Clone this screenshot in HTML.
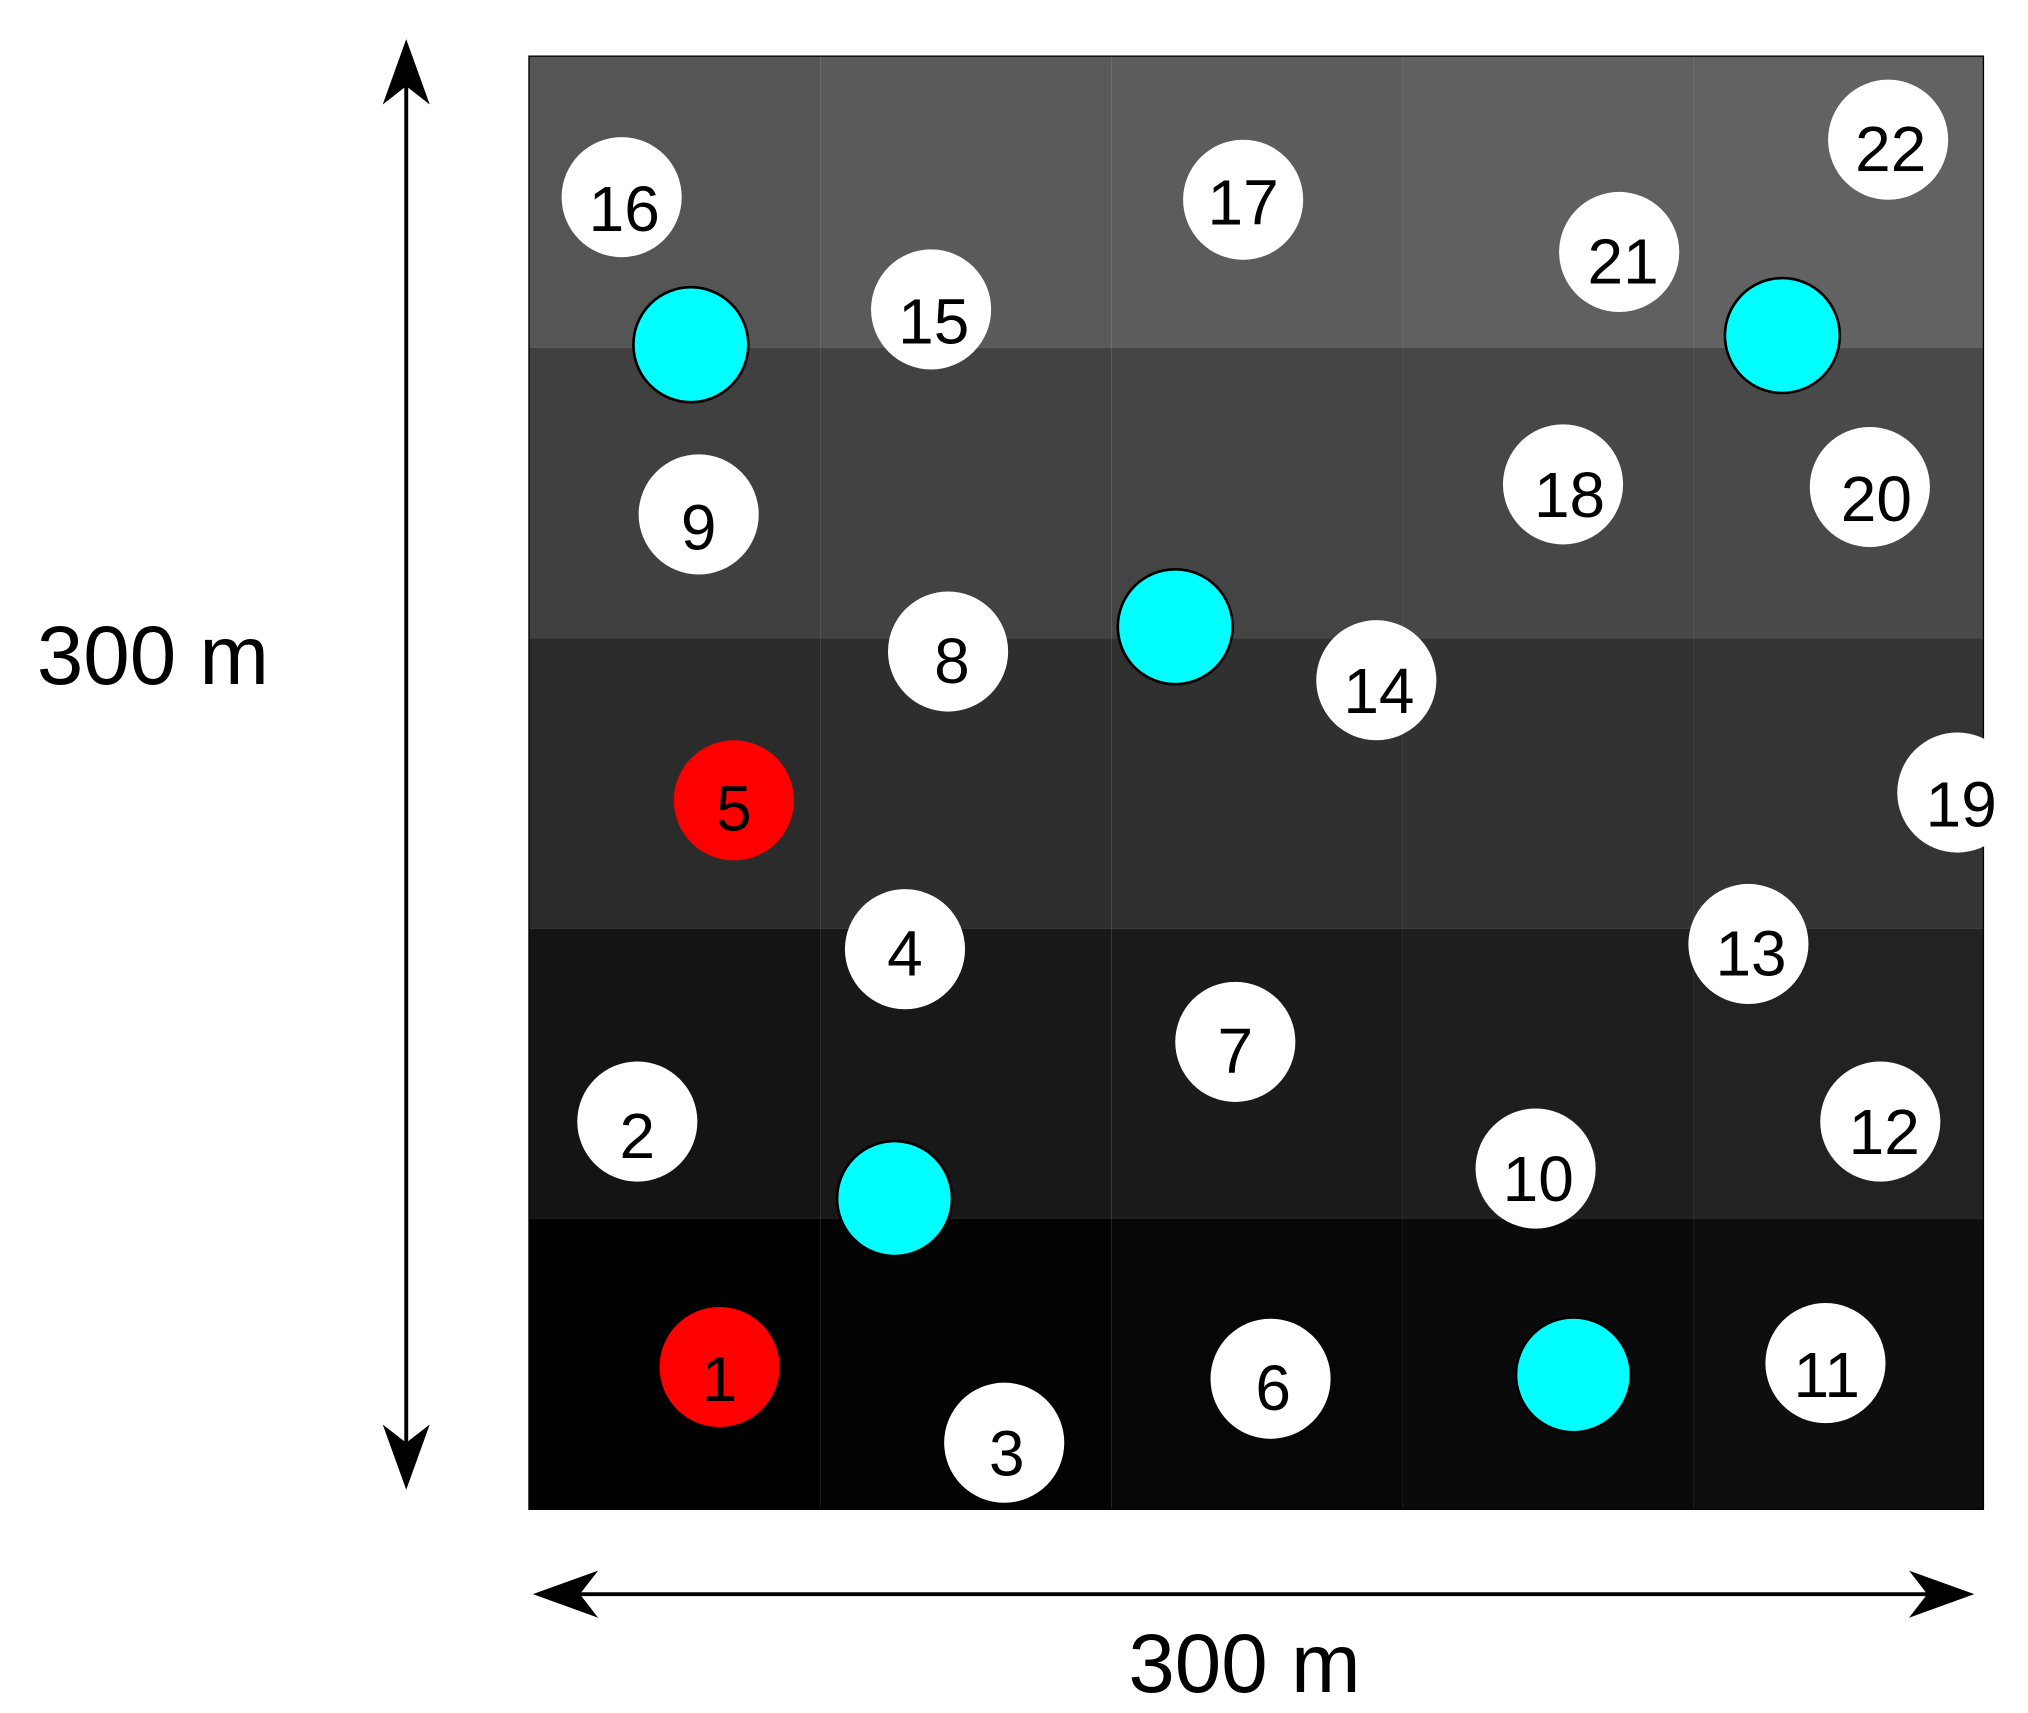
<!DOCTYPE html>
<html><head><style>html,body{margin:0;padding:0;background:#fff}svg{display:block}</style></head>
<body>
<svg width="2028" height="1713" viewBox="0 0 1553 1312" xmlns="http://www.w3.org/2000/svg" font-family="Liberation Sans, sans-serif">
<g>
<rect x="405" y="43" width="223" height="223" fill="#555"/><rect x="628" y="43" width="223" height="223" fill="#5a5a5a"/><rect x="851" y="43" width="223" height="223" fill="#5c5c5c"/><rect x="1074" y="43" width="223" height="223" fill="#606060"/><rect x="1297" y="43" width="222" height="223" fill="#626262"/>
<rect x="405" y="266" width="223" height="223" fill="#404040"/><rect x="628" y="266" width="223" height="223" fill="#424242"/><rect x="851" y="266" width="223" height="223" fill="#444"/><rect x="1074" y="266" width="223" height="223" fill="#474747"/><rect x="1297" y="266" width="222" height="223" fill="#494949"/>
<rect x="405" y="489" width="223" height="222" fill="#2b2b2b"/><rect x="628" y="489" width="223" height="222" fill="#2e2e2e"/><rect x="851" y="489" width="223" height="222" fill="#303030"/><rect x="1074" y="489" width="223" height="222" fill="#323232"/><rect x="1297" y="489" width="222" height="222" fill="#343434"/>
<rect x="405" y="711" width="223" height="222" fill="#141414"/><rect x="628" y="711" width="223" height="222" fill="#181818"/><rect x="851" y="711" width="223" height="222" fill="#1b1b1b"/><rect x="1074" y="711" width="223" height="222" fill="#1e1e1e"/><rect x="1297" y="711" width="222" height="222" fill="#222"/>
<rect x="405" y="933" width="223" height="223" fill="#000"/><rect x="628" y="933" width="223" height="223" fill="#030303"/><rect x="851" y="933" width="223" height="223" fill="#060606"/><rect x="1074" y="933" width="223" height="223" fill="#0a0a0a"/><rect x="1297" y="933" width="222" height="223" fill="#0e0e0e"/>
</g>
<rect x="405" y="43" width="1114" height="1113" fill="none" stroke="#000" stroke-width="1"/>
<g font-size="49" text-anchor="middle">
<g fill="#fff">
<circle cx="476" cy="151" r="46"/><circle cx="952" cy="153" r="46"/><circle cx="1446" cy="107" r="46"/><circle cx="1240" cy="193" r="46"/><circle cx="713" cy="237" r="46"/><circle cx="1197" cy="371" r="46"/><circle cx="1432" cy="373" r="46"/><circle cx="535" cy="394" r="46"/><circle cx="726" cy="499" r="46"/><circle cx="1054" cy="521" r="46"/><circle cx="1499" cy="607" r="46"/><circle cx="693" cy="727" r="46"/><circle cx="1339" cy="723" r="46"/><circle cx="946" cy="798" r="46"/><circle cx="488" cy="859" r="46"/><circle cx="1440" cy="859" r="46"/><circle cx="1176" cy="895" r="46"/><circle cx="973" cy="1056" r="46"/><circle cx="1398" cy="1044" r="46"/><circle cx="769" cy="1105" r="46"/>
</g>
<circle cx="562" cy="613" r="46" fill="#f00"/><circle cx="551" cy="1047" r="46" fill="#f00"/>
<g fill="#0ff" stroke="#000" stroke-width="2">
<circle cx="529" cy="264" r="44"/><circle cx="1365" cy="257" r="44"/><circle cx="900" cy="480" r="44"/><circle cx="685" cy="918" r="44"/><circle cx="1205" cy="1053" r="44"/>
</g>
<g fill="#000">
<text x="478" y="177">16</text><text x="952" y="172">17</text><text x="1448" y="131">22</text><text x="1243" y="217">21</text><text x="715" y="263">15</text><text x="1202" y="396">18</text><text x="1437" y="399">20</text><text x="535" y="421">9</text><text x="729" y="523">8</text><text x="1056" y="546">14</text><text x="562" y="636">5</text><text x="1502" y="633">19</text><text x="693" y="747">4</text><text x="1341" y="747">13</text><text x="946" y="822">7</text><text x="488" y="887">2</text><text x="1443" y="884">12</text><text x="1178" y="920">10</text><text x="551" y="1073">1</text><text x="975" y="1080">6</text><text x="1399" y="1070">11</text><text x="771" y="1130">3</text>
</g>
</g>
<g stroke="#000" stroke-width="3"><line x1="311" y1="45" x2="311" y2="1125"/><line x1="420" y1="1221" x2="1500" y2="1221"/></g>
<g fill="#000">
<path d="M311,30 L329,80 L311,66 L293,80 Z"/><path d="M311,1141 L329,1091 L311,1105 L293,1091 Z"/>
<path d="M408,1221 L458,1203 L444,1221 L458,1239 Z"/><path d="M1512,1221 L1462,1203 L1476,1221 L1462,1239 Z"/>
</g>
<text x="117" y="524" font-size="64" text-anchor="middle">300 m</text>
<text x="953" y="1296" font-size="64" text-anchor="middle">300 m</text>
</svg>
</body></html>
